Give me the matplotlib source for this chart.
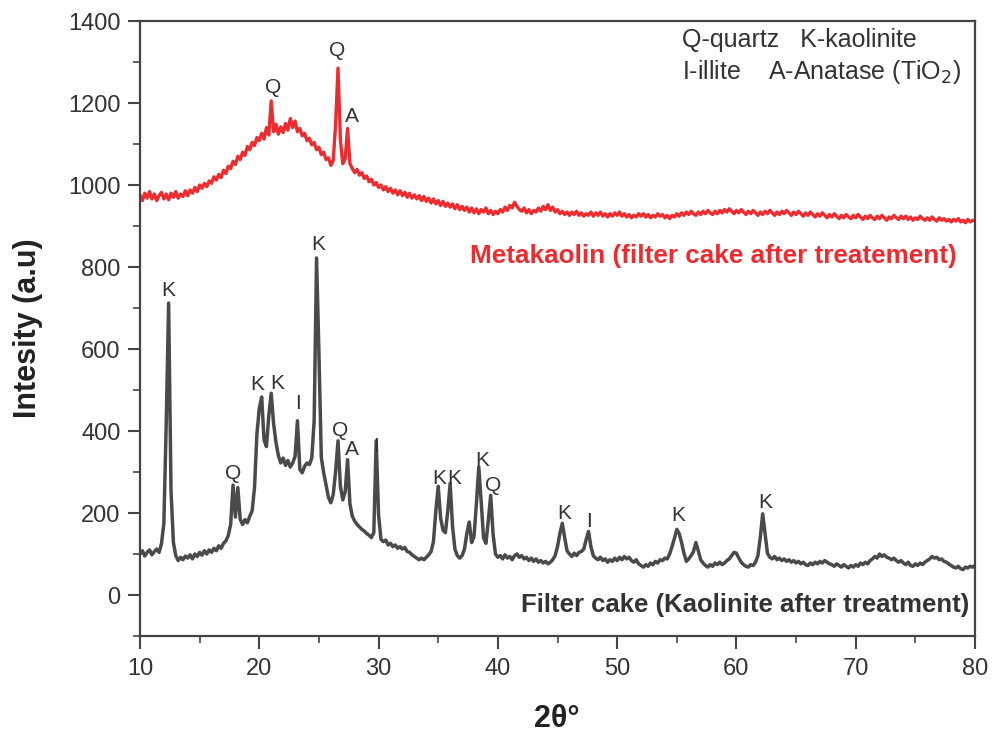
import numpy as np
import matplotlib
matplotlib.use("Agg")
import matplotlib.pyplot as plt
from matplotlib.ticker import MultipleLocator

plt.rcParams['font.family'] = ['Liberation Sans', 'DejaVu Sans']

# 2-theta scan, 10-80 deg at 0.2 deg steps
two_theta_start, two_theta_step = 10.0, 0.2

filter_cake = [
    100, 108, 95, 104, 110, 98, 106, 112, 104, 125,
    175, 420, 712, 255, 128, 96, 84, 92, 86, 95,
    90, 98, 88, 100, 94, 104, 97, 108, 100, 110,
    104, 114, 108, 120, 114, 126, 132, 145, 172, 268,
    190, 262, 185, 172, 184, 176, 192, 205, 262, 392,
    455, 483, 378, 362, 438, 492, 418, 372, 340, 322,
    334, 316, 328, 312, 322, 338, 425, 306, 298, 314,
    322, 318, 334, 425, 822, 590, 335, 298, 268, 238,
    225, 245, 302, 376, 265, 232, 252, 330, 222, 192,
    180, 172, 166, 160, 156, 150, 146, 140, 152, 376,
    195, 136, 130, 134, 122, 126, 118, 122, 114, 118,
    112, 116, 106, 104, 98, 94, 90, 86, 90, 86,
    92, 98, 106, 130, 205, 265, 188, 158, 152, 205,
    272, 168, 112, 96, 90, 96, 112, 150, 178, 128,
    142, 222, 312, 228, 140, 126, 182, 243, 148, 100,
    92, 96, 88, 98, 90, 94, 86, 96, 100, 92,
    96, 88, 92, 84, 90, 82, 88, 80, 84, 78,
    82, 76, 80, 86, 96, 118, 150, 175, 140, 108,
    100, 94, 102, 96, 104, 106, 112, 135, 155, 118,
    96, 90, 86, 92, 84, 88, 80, 86, 82, 90,
    84, 92, 86, 94, 88, 92, 84, 80, 86, 76,
    72, 68, 74, 70, 78, 74, 82, 78, 86, 84,
    90, 88, 100, 118, 138, 160, 150, 128, 102, 82,
    88, 96, 106, 128, 108, 86, 78, 72, 68, 74,
    70, 78, 74, 80, 74, 78, 84, 88, 96, 104,
    102, 90, 80, 74, 70, 68, 74, 72, 80, 96,
    140, 198, 150, 102, 92, 88, 94, 86, 90, 84,
    88, 82, 86, 80, 84, 78, 82, 76, 80, 74,
    72, 78, 74, 80, 76, 82, 78, 84, 80, 76,
    74, 70, 76, 72, 68, 74, 70, 66, 72, 68,
    74, 70, 78, 74, 80, 76, 84, 88, 94, 90,
    100, 94, 98, 92, 90, 86, 90, 84, 80, 84,
    78, 74, 80, 72, 70, 76, 72, 78, 74, 80,
    84, 88, 94, 90, 92, 86, 88, 82, 80, 76,
    72, 68, 66, 70, 64, 62, 68, 66, 70, 68,
    72,
]

metakaolin = [
    975, 962, 980, 968, 984, 966, 978, 962, 974, 982,
    966, 978, 964, 980, 970, 984, 968, 978, 972, 986,
    974, 988, 980, 994, 984, 1000, 992, 1004, 996, 1010,
    1004, 1020, 1012, 1026, 1018, 1036, 1028, 1046, 1040, 1058,
    1050, 1070, 1062, 1080, 1072, 1094, 1086, 1104, 1096, 1116,
    1108, 1126, 1112, 1140, 1122, 1205, 1130, 1148, 1124, 1142,
    1128, 1150, 1134, 1162, 1140, 1156, 1130, 1138, 1120, 1126,
    1108, 1114, 1098, 1104, 1086, 1092, 1074, 1080, 1062, 1066,
    1048, 1060, 1150, 1285, 1110, 1052, 1064, 1138, 1052, 1040,
    1030, 1038, 1024, 1030, 1016, 1022, 1008, 1014, 1000, 1006,
    994, 1000, 988, 996, 984, 992, 980, 988, 976, 986,
    974, 982, 970, 980, 968, 976, 966, 974, 962, 972,
    960, 968, 956, 966, 954, 962, 950, 960, 948, 956,
    946, 954, 942, 952, 940, 948, 938, 946, 934, 944,
    932, 942, 930, 940, 934, 944, 930, 938, 928, 936,
    930, 940, 934, 946, 938, 950, 944, 958, 948, 940,
    936, 944, 932, 940, 930, 938, 934, 944, 936, 948,
    940, 952, 938, 946, 934, 940, 930, 936, 928, 934,
    926, 934, 928, 936, 926, 932, 924, 930, 926, 934,
    924, 932, 926, 934, 924, 930, 922, 930, 924, 932,
    926, 934, 924, 930, 922, 928, 920, 926, 922, 930,
    924, 930, 922, 928, 920, 926, 922, 930, 924, 928,
    920, 926, 918, 926, 922, 930, 924, 932, 926, 934,
    928, 936, 930, 926, 934, 928, 936, 930, 938, 932,
    928, 936, 930, 938, 932, 940, 934, 942, 936, 930,
    938, 932, 940, 934, 928, 936, 930, 938, 932, 926,
    934, 928, 936, 930, 938, 932, 926, 934, 928, 936,
    930, 938, 932, 926, 934, 928, 936, 930, 924, 932,
    926, 934, 928, 922, 930, 924, 932, 926, 920, 928,
    922, 930, 924, 918, 926, 920, 928, 922, 918, 926,
    920, 928, 922, 916, 924, 918, 926, 920, 916, 924,
    918, 926, 920, 914, 922, 918, 926, 920, 916, 924,
    918, 924, 916, 922, 914, 920, 916, 924, 918, 914,
    920, 914, 922, 916, 912, 920, 914, 918, 912, 916,
    910, 916, 912, 918, 910, 914, 908, 916, 910, 914,
    912,
]

# Phase labels: (symbol, 2theta, intensity)
cake_labels = [
    ("K", 12.38, 742), ("Q", 17.83, 296), ("K", 19.8, 514), ("K", 21.5, 517),
    ("I", 23.24, 467), ("K", 24.97, 856), ("Q", 26.8, 402), ("A", 27.78, 354),
    ("I", 29.76, 362), ("K", 35.05, 284), ("K", 36.36, 284), ("K", 38.69, 328),
    ("Q", 39.6, 267), ("K", 45.55, 199), ("I", 47.6, 180), ("K", 55.1, 194),
    ("K", 62.45, 226),
]
meta_labels = [("Q", 21.14, 1237), ("Q", 26.5, 1327), ("A", 27.77, 1168)]

x_ticks = [10, 20, 30, 40, 50, 60, 70, 80]
y_ticks = [0, 200, 400, 600, 800, 1000, 1200, 1400]

two_theta = two_theta_start + two_theta_step * np.arange(len(filter_cake))

W, H = 994, 735
fig = plt.figure(figsize=(W / 100, H / 100), dpi=100)
ax = fig.add_axes([140 / W, 1 - 636 / H, 835 / W, 615 / H])

red = "#ee2b2e"
grey = "#4a4a4a"
ax.plot(two_theta, metakaolin, color=red, lw=2.4)
ax.plot(two_theta, filter_cake, color=grey, lw=2.5)

for sym, x, y in cake_labels + meta_labels:
    ax.text(x, y, sym, ha="center", va="center", fontsize=15, color="#333333")

ax.text(0.649, 0.969, "Q-quartz   K-kaolinite", transform=ax.transAxes,
        ha="left", va="center", fontsize=18, color="#333333")
ax.text(0.649, 0.917, "I-illite    A-Anatase (TiO$_2$)", transform=ax.transAxes,
        ha="left", va="center", fontsize=18, color="#333333")

ax.text(78.45, 827, "Metakaolin (filter cake after treatement)", ha="right",
        va="center", fontsize=18.8, fontweight="bold", color=red)
ax.text(79.55, -24, "Filter cake (Kaolinite after treatment)", ha="right",
        va="center", fontsize=18.5, fontweight="bold", color="#333333")

ax.set_xlim(10, 80)
ax.set_ylim(-100, 1400)
ax.set_xticks(x_ticks)
ax.set_yticks(y_ticks)
ax.xaxis.set_minor_locator(MultipleLocator(5))
ax.yaxis.set_minor_locator(MultipleLocator(100))
ax.tick_params(which="major", direction="out", length=9, width=1.5,
               labelsize=17, colors="#444444", labelcolor="#333333")
ax.tick_params(axis="x", which="major", pad=7)
ax.tick_params(axis="y", which="major", pad=5)
ax.tick_params(which="minor", direction="out", length=5, width=1.2,
               colors="#444444")
for s in ax.spines.values():
    s.set_linewidth(1.6)
    s.set_color("#444444")

fig.text(557 / W, 1 - 719 / H, "2θ°", ha="center", va="center",
         fontsize=22, fontweight="bold", color="#222222")
fig.text(28 / W, 1 - 328 / H, "Intesity (a.u)", ha="center", va="center",
         rotation=90, fontsize=22, fontweight="bold", color="#222222")

fig.savefig("out.png", dpi=100)
